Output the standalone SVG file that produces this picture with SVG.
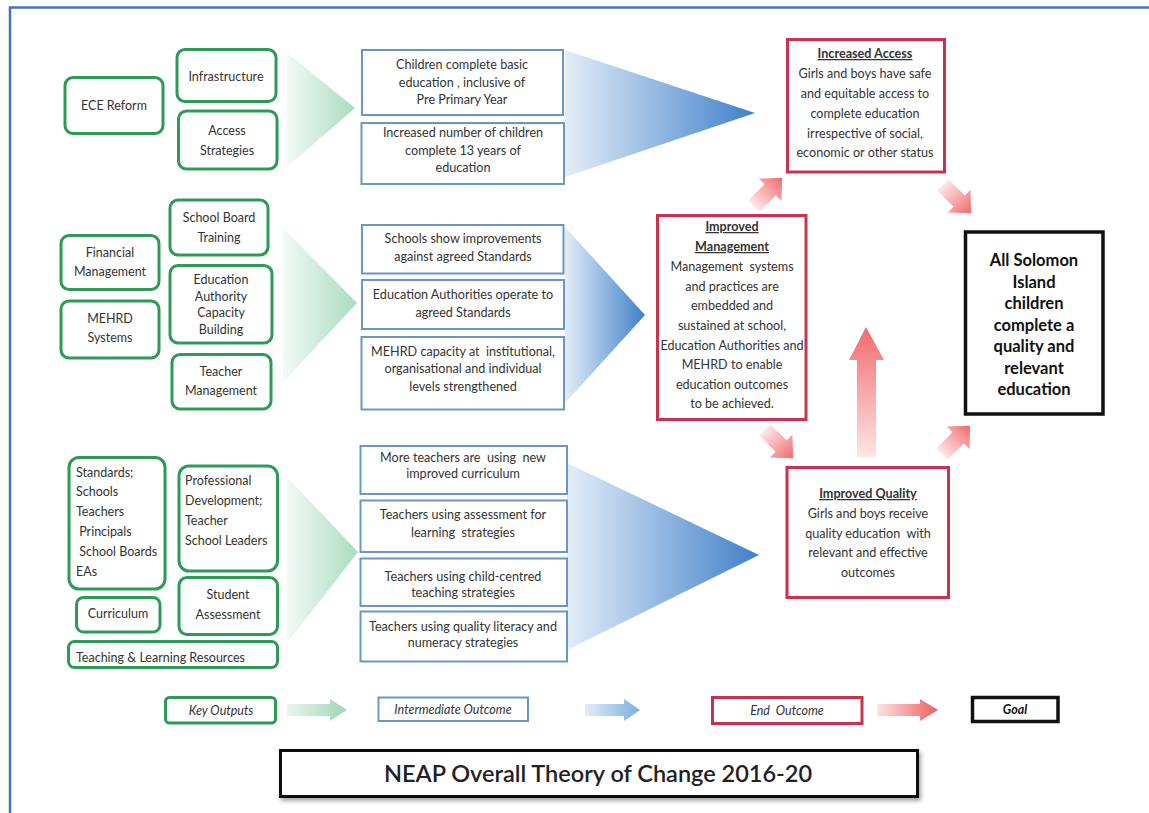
<svg xmlns="http://www.w3.org/2000/svg" width="1149" height="813" viewBox="0 0 1149 813">
<defs>
<style>
text{font-family:Lato,"Open Sans","Liberation Sans",sans-serif;fill:#333;text-anchor:middle;white-space:pre}
.g{fill:#fff;stroke:#2e9a57;stroke-width:3}
.b{fill:#fff;stroke:#6a96c4;stroke-width:2}
.r{fill:#fff;stroke:#c8324f;stroke-width:3}
.k{fill:#fff;stroke:#111;stroke-width:3.5}
.tg{font-size:12.5px}
.tb{font-size:12.6px}
.tr{font-size:12.6px}
.th{font-weight:bold;text-decoration:underline}
.tl{text-anchor:start}
.goal{font-size:16.5px;font-weight:bold;fill:#111}
.lg{font-size:12.5px;font-style:italic}
</style>
<linearGradient id="gg" x1="0" y1="0" x2="1" y2="0">
<stop offset="0" stop-color="#f2faf5"/>
<stop offset="1" stop-color="#a9dcbf"/>
</linearGradient>
<linearGradient id="bg" x1="0" y1="0" x2="1" y2="0">
<stop offset="0" stop-color="#e3edf8"/>
<stop offset="1" stop-color="#3f80c8"/>
</linearGradient>
<linearGradient id="rg" x1="0" y1="0" x2="1" y2="0">
<stop offset="0" stop-color="#fde8e8"/>
<stop offset="1" stop-color="#f26a6e"/>
</linearGradient>
<linearGradient id="rgv" x1="0" y1="1" x2="0" y2="0">
<stop offset="0" stop-color="#fde6e6"/>
<stop offset="1" stop-color="#f26a6e"/>
</linearGradient>
<linearGradient id="lgg" x1="0" y1="0" x2="1" y2="0">
<stop offset="0" stop-color="#eaf6ee"/>
<stop offset="1" stop-color="#9fd6b4"/>
</linearGradient>
<linearGradient id="lbg" x1="0" y1="0" x2="1" y2="0">
<stop offset="0" stop-color="#e3edf8"/>
<stop offset="1" stop-color="#7aaee0"/>
</linearGradient>
<linearGradient id="lrg" x1="0" y1="0" x2="1" y2="0">
<stop offset="0" stop-color="#fde4e4"/>
<stop offset="1" stop-color="#f05c60"/>
</linearGradient>
<path id="da" d="M-20,-8 L3,-8 L3,-16 L20,0 L3,16 L3,8 L-20,8 Z"/>
<filter id="sh" x="-5%" y="-20%" width="110%" height="150%">
<feDropShadow dx="2" dy="3" stdDeviation="2" flood-color="#000" flood-opacity="0.35"/>
</filter>
</defs>
<rect width="1149" height="813" fill="#fff"/>
<path d="M10,813 L10,7.5 L1149,7.5" fill="none" stroke="#4472c4" stroke-width="2.5"/>

<g id="connectors">
<polygon points="287,53 355,108 287,167" fill="url(#gg)"/>
<polygon points="283,228 357,303 283,382" fill="url(#gg)"/>
<polygon points="287,477 358,552 287,643" fill="url(#gg)"/>
<polygon points="565,50 755,113 565,177" fill="url(#bg)"/>
<polygon points="565,227 645,315 565,403" fill="url(#bg)"/>
<polygon points="567,463 759,555 567,650" fill="url(#bg)"/>
<use href="#da" fill="url(#rg)" transform="translate(768,192) rotate(-45)"/>
<use href="#da" fill="url(#rg)" transform="translate(957,199) rotate(45)"/>
<use href="#da" fill="url(#rg)" transform="translate(779,444) rotate(45)"/>
<use href="#da" fill="url(#rg)" transform="translate(956,440) rotate(-45)"/>
<polygon points="857,457 857,360 849,360 866,327 884,360 876,360 876,457" fill="url(#rgv)"/>
<polygon points="287,704 330,704 330,699 347,710 330,721 330,716 287,716" fill="url(#lgg)"/>
<polygon points="585,704 624,704 624,699 640,710 624,721 624,716 585,716" fill="url(#lbg)"/>
<polygon points="877,704 920,704 920,699 938,710 920,721 920,716 877,716" fill="url(#lrg)"/>
</g>

<g id="n-ece"><rect class="g" x="65" y="77.5" width="98" height="56" rx="8"/><text class="tg" x="114" y="110">ECE Reform</text></g>
<g id="n-infra"><rect class="g" x="177" y="49.5" width="99" height="52" rx="8"/><text class="tg" x="226" y="81">Infrastructure</text></g>
<g id="n-access"><rect class="g" x="178.5" y="111" width="98.5" height="58" rx="8"/><text class="tg" x="227" y="135">Access</text><text class="tg" x="227" y="155">Strategies</text></g>

<g id="n-sbt"><rect class="g" x="170" y="200" width="98" height="55" rx="8"/><text class="tg" x="219" y="222">School Board</text><text class="tg" x="219" y="242">Training</text></g>
<g id="n-fin"><rect class="g" x="61" y="235.5" width="98" height="54" rx="8"/><text class="tg" x="110" y="257">Financial</text><text class="tg" x="110" y="276">Management</text></g>
<g id="n-mehrd"><rect class="g" x="61" y="301" width="98" height="57" rx="8"/><text class="tg" x="110" y="323">MEHRD</text><text class="tg" x="110" y="342">Systems</text></g>
<g id="n-eacb"><rect class="g" x="170" y="265.5" width="102" height="77.5" rx="8"/><text class="tg" x="221" y="284">Education</text><text class="tg" x="221" y="301">Authority</text><text class="tg" x="221" y="317">Capacity</text><text class="tg" x="221" y="334">Building</text></g>
<g id="n-tm"><rect class="g" x="172" y="354.5" width="99" height="54.5" rx="8"/><text class="tg" x="221" y="376">Teacher</text><text class="tg" x="221" y="395">Management</text></g>

<g id="n-std"><rect class="g" x="69" y="457.5" width="96" height="131.5" rx="10"/><text class="tg tl" x="76" y="477">Standards;</text><text class="tg tl" x="76" y="496">Schools</text><text class="tg tl" x="76" y="516">Teachers</text><text class="tg tl" x="76" y="536"> Principals</text><text class="tg tl" x="76" y="556"> School Boards</text><text class="tg tl" x="76" y="576">EAs</text></g>
<g id="n-pd"><rect class="g" x="179" y="466" width="98.5" height="105" rx="10"/><text class="tg tl" x="185" y="485">Professional</text><text class="tg tl" x="185" y="505">Development;</text><text class="tg tl" x="185" y="525">Teacher</text><text class="tg tl" x="185" y="545">School Leaders</text></g>
<g id="n-cur"><rect class="g" x="76.5" y="597.5" width="83.5" height="34.5" rx="7"/><text class="tg" x="118" y="618">Curriculum</text></g>
<g id="n-sa"><rect class="g" x="179" y="577.5" width="98.5" height="57" rx="8"/><text class="tg" x="228" y="599">Student</text><text class="tg" x="228" y="619">Assessment</text></g>
<g id="n-tlr"><rect class="g" x="68.5" y="641.5" width="209" height="26" rx="6"/><text class="tg tl" x="76" y="662">Teaching &amp; Learning Resources</text></g>

<g id="n-io1"><rect class="b" x="362" y="50" width="201" height="65"/><text class="tb" x="462" y="69">Children complete basic</text><text class="tb" x="462" y="87">education , inclusive of</text><text class="tb" x="462" y="104">Pre Primary Year</text></g>
<g id="n-io2"><rect class="b" x="361.5" y="123" width="202.5" height="61"/><text class="tb" x="463" y="137">Increased number of children</text><text class="tb" x="463" y="155">complete 13 years of</text><text class="tb" x="463" y="172">education</text></g>
<g id="n-io3"><rect class="b" x="362" y="225" width="201.5" height="48.5"/><text class="tb" x="463" y="243">Schools show improvements</text><text class="tb" x="463" y="261">against agreed Standards</text></g>
<g id="n-io4"><rect class="b" x="362" y="280" width="202" height="49"/><text class="tb" x="463" y="299">Education Authorities operate to</text><text class="tb" x="463" y="317">agreed Standards</text></g>
<g id="n-io5"><rect class="b" x="361.5" y="337" width="202.5" height="72.5"/><text class="tb" x="463" y="356">MEHRD capacity at  institutional,</text><text class="tb" x="463" y="373">organisational and individual</text><text class="tb" x="463" y="391">levels strengthened</text></g>
<g id="n-io6"><rect class="b" x="360.5" y="446" width="206.5" height="48"/><text class="tb" x="463" y="462">More teachers are  using  new</text><text class="tb" x="463" y="478">improved curriculum</text></g>
<g id="n-io7"><rect class="b" x="360.5" y="500.5" width="206.5" height="51.5"/><text class="tb" x="463" y="519">Teachers using assessment for</text><text class="tb" x="463" y="537">learning  strategies</text></g>
<g id="n-io8"><rect class="b" x="360.5" y="558.5" width="206.5" height="47.5"/><text class="tb" x="463" y="581">Teachers using child-centred</text><text class="tb" x="463" y="597">teaching strategies</text></g>
<g id="n-io9"><rect class="b" x="360.5" y="611.5" width="206.5" height="50"/><text class="tb" x="463" y="631">Teachers using quality literacy and</text><text class="tb" x="463" y="647">numeracy strategies</text></g>

<g id="n-access-end"><rect class="r" x="787.5" y="39.5" width="157" height="132.5"/><text class="tr th" x="865" y="58">Increased Access</text><text class="tr" x="865" y="78">Girls and boys have safe</text><text class="tr" x="865" y="98">and equitable access to</text><text class="tr" x="865" y="118">complete education</text><text class="tr" x="865" y="138">irrespective of social,</text><text class="tr" x="865" y="157">economic or other status</text></g>
<g id="n-mgmt"><rect class="r" x="657.5" y="215.5" width="148.5" height="204"/><text class="tr th" x="732" y="231">Improved</text><text class="tr th" x="732" y="251">Management</text><text class="tr" x="732" y="271">Management  systems</text><text class="tr" x="732" y="291">and practices are</text><text class="tr" x="732" y="310">embedded and</text><text class="tr" x="732" y="330">sustained at school,</text><text class="tr" x="732" y="350">Education Authorities and</text><text class="tr" x="732" y="369">MEHRD to enable</text><text class="tr" x="732" y="389">education outcomes</text><text class="tr" x="732" y="408">to be achieved.</text></g>
<g id="n-quality"><rect class="r" x="787" y="467.5" width="161.5" height="130"/><text class="tr th" x="868" y="498">Improved Quality</text><text class="tr" x="868" y="518">Girls and boys receive</text><text class="tr" x="868" y="538">quality education  with</text><text class="tr" x="868" y="557">relevant and effective</text><text class="tr" x="868" y="577">outcomes</text></g>
<g id="n-goal"><rect class="k" x="965.5" y="232" width="137.5" height="182"/><text class="goal" x="1034" y="266">All Solomon</text><text class="goal" x="1034" y="288">Island</text><text class="goal" x="1034" y="309">children</text><text class="goal" x="1034" y="331">complete a</text><text class="goal" x="1034" y="352">quality and</text><text class="goal" x="1034" y="374">relevant</text><text class="goal" x="1034" y="395">education</text></g>

<g id="legend">
<g id="lg-key"><rect class="g" x="165.5" y="697.5" width="110" height="25.5" rx="4" stroke-width="2.5"/><text class="lg" x="221" y="714.5">Key Outputs</text></g>
<g id="lg-int"><rect class="b" x="378.5" y="697.5" width="149.5" height="23.5"/><text class="lg" x="453" y="714">Intermediate Outcome</text></g>
<g id="lg-end"><rect class="r" x="712.5" y="697.5" width="149.5" height="26" stroke-width="2.5"/><text class="lg" x="787" y="714.5">End  Outcome</text></g>
<g id="lg-goal"><rect class="k" x="972.5" y="697.5" width="85.5" height="24" stroke-width="3"/><text class="lg" x="1015" y="714" font-weight="bold" style="fill:#111">Goal</text></g>
</g>

<g id="title"><rect x="280.5" y="750.5" width="637" height="46" fill="#fff" stroke="#111" stroke-width="3" filter="url(#sh)"/><text x="598" y="782" style="font-size:23.5px;font-weight:600;fill:#222">NEAP Overall Theory of Change 2016-20</text></g>
</svg>
